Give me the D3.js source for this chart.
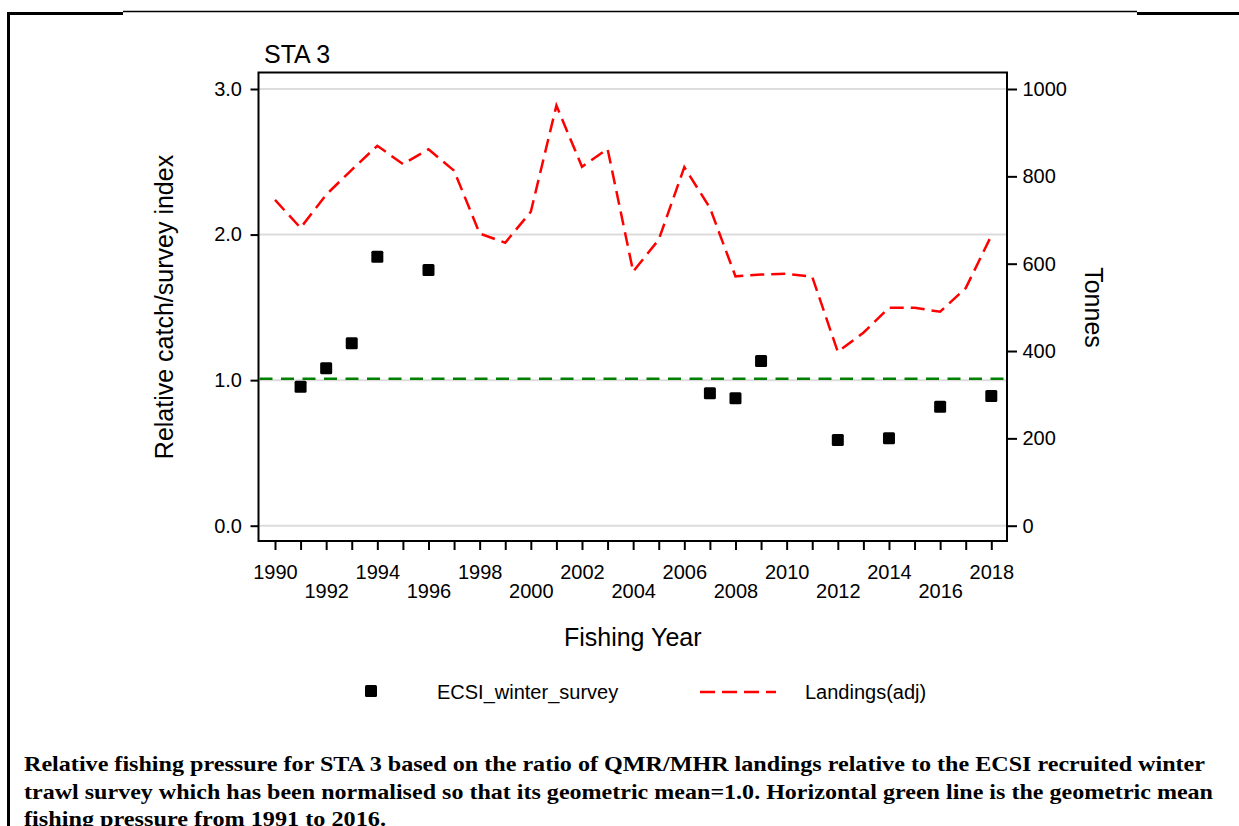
<!DOCTYPE html>
<html><head><meta charset="utf-8">
<script src="https://cdn.jsdelivr.net/npm/d3@7/dist/d3.min.js"></script>
<style>body{margin:0;background:#fff} svg{display:block}</style>
</head><body>
<svg id="c" width="1239" height="826"></svg>
<script>
// ---- data ----
const years = [1990,1991,1992,1993,1994,1995,1996,1997,1998,1999,2000,2001,2002,2003,2004,2005,2006,2007,2008,2009,2010,2011,2012,2013,2014,2015,2016,2017,2018];
const landings = [746,682,758,815,870,828,862,813,669,648,719,962,822,863,582,655,821,728,571,575,577,570,398,442,499,499,490,544,664];
const surveyYears = [1991,1992,1993,1994,1996,2007,2008,2009,2012,2014,2016,2018];
const surveyValues = [0.954,1.082,1.254,1.847,1.757,0.910,0.876,1.132,0.589,0.601,0.818,0.891];
const geoMean = 1.01;
const leftTicks = [0,1,2,3];
const rightTicks = [0,200,400,600,800,1000];
const xLabelYears = [1990,1992,1994,1996,1998,2000,2002,2004,2006,2008,2010,2012,2014,2016,2018];
const legendLabels = ["ECSI_winter_survey","Landings(adj)"];
const captionLines = [
  "Relative fishing pressure  for STA 3 based on the ratio of QMR/MHR landings relative to the ECSI recruited winter",
  "trawl survey which has been normalised so that its geometric mean=1.0. Horizontal green line is the geometric mean",
  "fishing pressure  from 1991 to 2016."
];

// ---- layout ----
const svg = d3.select("#c");
const font = "'Liberation Sans', Arial, sans-serif";
const plot = {l:258.5, r:1007, t:72.5, b:541};
const x = d3.scaleLinear().domain([1990,2018]).range([275,991.3]);
const yL = d3.scaleLinear().domain([0,3]).range([525.7,89]);
const yR = d3.scaleLinear().domain([0,1000]).range([525.7,89]);

// page frame
svg.append("rect").attr("x",7).attr("y",12).attr("width",3).attr("height",814).attr("fill","#000");
svg.append("rect").attr("x",7).attr("y",12).attr("width",116).attr("height",3).attr("fill","#000");
svg.append("line").attr("x1",123).attr("x2",1137).attr("y1",11.5).attr("y2",11.5).attr("stroke","#000").attr("stroke-width",1.5);
svg.append("rect").attr("x",1137).attr("y",12).attr("width",102).attr("height",3).attr("fill","#000");

// gridlines
svg.append("g").selectAll("line").data(leftTicks).join("line")
  .attr("x1",plot.l).attr("x2",plot.r)
  .attr("y1",d=>yL(d)).attr("y2",d=>yL(d))
  .attr("stroke","#dcdcdc").attr("stroke-width",2);

// axes
function styleAxis(g){
  g.select(".domain").remove();
  g.selectAll(".tick line").attr("stroke","#000").attr("stroke-width",2);
  g.selectAll(".tick text").attr("fill","#000").style("font-family",font).style("font-size","20px");
}
svg.append("g").attr("transform",`translate(${plot.l},0)`)
  .call(d3.axisLeft(yL).tickValues(leftTicks).tickFormat(d3.format(".1f")).tickSize(8).tickPadding(8.5))
  .call(styleAxis);
svg.append("g").attr("transform",`translate(${plot.r},0)`)
  .call(d3.axisRight(yR).tickValues(rightTicks).tickFormat(d3.format("d")).tickSize(10).tickPadding(5.5))
  .call(styleAxis);
const xa = svg.append("g").attr("transform",`translate(0,${plot.b})`)
  .call(d3.axisBottom(x).tickValues(years).tickFormat(d=>xLabelYears.includes(d)?String(d):"").tickSize(9))
  .call(styleAxis);
xa.selectAll(".tick text")
  .attr("y",d=>xLabelYears.indexOf(d)%2===0?31:50)
  .attr("dy","0.35em");

// frame of the plot area
svg.append("rect").attr("x",plot.l).attr("y",plot.t)
  .attr("width",plot.r-plot.l).attr("height",plot.b-plot.t)
  .attr("fill","none").attr("stroke","#000").attr("stroke-width",2);

// geometric mean line
svg.append("line").attr("x1",plot.l+1).attr("x2",plot.r-1)
  .attr("y1",yL(geoMean)).attr("y2",yL(geoMean))
  .attr("stroke","#008000").attr("stroke-width",2.5).attr("stroke-dasharray","13,8.5");

// landings line
const line = d3.line().x((d,i)=>x(years[i])).y(d=>yR(d));
svg.append("path").datum(landings).attr("d",line)
  .attr("fill","none").attr("stroke","#ff0000").attr("stroke-width",2.5)
  .attr("stroke-dasharray","14,7");

// survey points
svg.append("g").selectAll("rect").data(surveyValues).join("rect")
  .attr("x",(d,i)=>x(surveyYears[i])-6).attr("y",d=>yL(d)-6)
  .attr("width",12).attr("height",12).attr("rx",1.5).attr("fill","#000");

// titles
svg.append("text").attr("x",264).attr("y",63).text("STA 3")
  .style("font-family",font).style("font-size","25px").attr("fill","#000");
svg.append("text").attr("transform","translate(173.3,307) rotate(-90)")
  .attr("text-anchor","middle").text("Relative catch/survey index")
  .style("font-family",font).style("font-size","25px").attr("fill","#000");
svg.append("text").attr("transform","translate(1085,307.5) rotate(90)")
  .attr("text-anchor","middle").text("Tonnes")
  .style("font-family",font).style("font-size","25px").attr("fill","#000");
svg.append("text").attr("x",(plot.l+plot.r)/2).attr("y",646)
  .attr("text-anchor","middle").text("Fishing Year")
  .style("font-family",font).style("font-size","25px").attr("fill","#000");

// legend
const lg = svg.append("g");
lg.append("rect").attr("x",365).attr("y",685).attr("width",12).attr("height",12).attr("rx",1.5).attr("fill","#000");
lg.append("text").attr("x",437).attr("y",692).attr("dy","0.35em").text(legendLabels[0])
  .style("font-family",font).style("font-size","20px").attr("fill","#000");
lg.append("line").attr("x1",700).attr("x2",776).attr("y1",692).attr("y2",692)
  .attr("stroke","#ff0000").attr("stroke-width",2.5).attr("stroke-dasharray","15,7");
lg.append("text").attr("x",805).attr("y",692).attr("dy","0.35em").text(legendLabels[1])
  .style("font-family",font).style("font-size","20px").attr("fill","#000");

// caption
const capW = [1181,1189,362];
svg.append("g").selectAll("text").data(captionLines).join("text")
  .attr("x",24).attr("y",(d,i)=>771+i*27.5)
  .attr("textLength",(d,i)=>capW[i]).attr("lengthAdjust","spacingAndGlyphs")
  .text(d=>d)
  .style("font-family","'Liberation Serif','Times New Roman',serif")
  .style("font-weight","bold").style("font-size","22px").attr("fill","#000");
</script>
</body></html>
